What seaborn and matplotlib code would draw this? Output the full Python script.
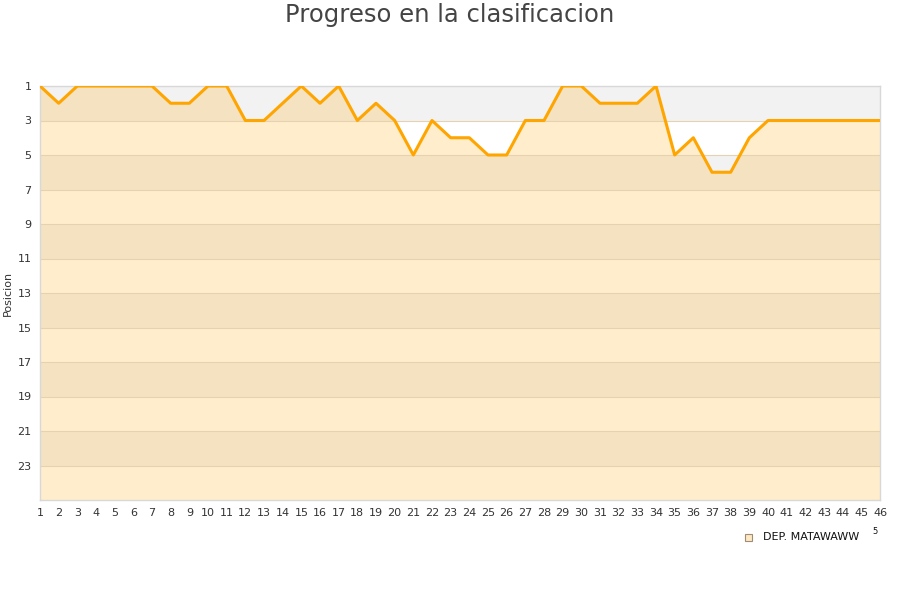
import numpy as np
import pandas as pd
import seaborn as sns
import matplotlib.pyplot as plt

# Data
jornadas = list(range(1, 47))
posiciones = [1, 2, 1, 1, 1, 1, 1, 2, 2, 1,
              1, 3, 3, 2, 1, 2, 1, 3, 2, 3,
              5, 3, 4, 4, 5, 5, 3, 3, 1, 1,
              2, 2, 2, 1, 5, 4, 6, 6, 4, 3,
              3, 3, 3, 3, 3, 3]
equipo = 'DEP. MATAWAWW'
y_ticks = list(range(1, 24, 2))

df = pd.DataFrame({'jornada': jornadas, 'posicion': posiciones})

sns.set_style('white')
plt.rcParams['font.family'] = ['DejaVu Sans']

fig = plt.figure(figsize=(9, 6), dpi=100)
ax = fig.add_axes([40 / 900, 100 / 600, 840 / 900, 414 / 600])

# alternating background bands
for lo in range(1, 25, 4):
    ax.axhspan(lo, lo + 2, color='#f2f2f2', lw=0, zorder=0)

# area under the line (down to the bottom of the chart)
ax.fill_between(df['jornada'], df['posicion'], 25, color='#ffa500', alpha=0.2, lw=0, zorder=1)

for t in y_ticks[1:]:
    ax.axhline(t, color='#e6d2ae', lw=0.8, zorder=2)

sns.lineplot(data=df, x='jornada', y='posicion', color='#ffa500', lw=2.2, ax=ax, zorder=3)

ax.set_xlim(1, 46)
ax.set_ylim(25, 1)
ax.set_xticks(jornadas)
ax.set_yticks(y_ticks)
ax.tick_params(axis='both', labelsize=8, colors='#333333', length=0, pad=6)
ax.set_xlabel('')
ax.set_ylabel('Posicion', fontsize=8, color='#333333', labelpad=3)

for side in ['top', 'right', 'bottom', 'left']:
    ax.spines[side].set_color('#d8d8d8')
    ax.spines[side].set_linewidth(1)

fig.text(0.5, 1 - 15 / 600, 'Progreso en la clasificacion', ha='center', va='center',
         fontsize=17.5, color='#444444')

# legend
fig.patches.append(plt.Rectangle((745 / 900, 1 - 541 / 600), 7 / 900, 7 / 600,
                                 transform=fig.transFigure, facecolor='#fde9c5',
                                 edgecolor='#a08c70', lw=0.8))
fig.text(763 / 900, 1 - 537 / 600, equipo, ha='left', va='center',
         fontsize=8, color='#111111')
fig.text(875 / 900, 1 - 532 / 600, '5', ha='center', va='center',
         fontsize=6, color='#111111')

fig.savefig('out.png', dpi=100)
